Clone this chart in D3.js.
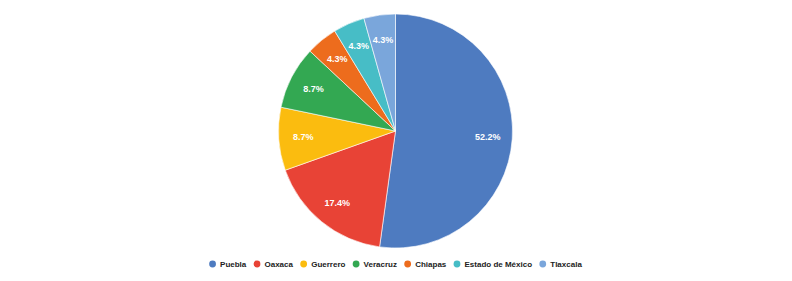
<!DOCTYPE html>
<html>
<head>
<meta charset="utf-8">
<script src="https://cdn.jsdelivr.net/npm/d3@7"></script>
<style>
  body { margin: 0; background: #fff; }
  svg { display: block; font-family: "Liberation Sans", Arial, sans-serif; }
</style>
</head>
<body>
<svg id="chart" width="792" height="281"></svg>
<script>
const states = ["Puebla", "Oaxaca", "Guerrero", "Veracruz", "Chiapas", "Estado de México", "Tlaxcala"];
const counts = [12, 4, 2, 2, 1, 1, 1];
const colors = ["#4e7bc0", "#e84336", "#fbbc0f", "#33a852", "#ed6c1d", "#47bdc6", "#7aa6db"];

const svg = d3.select("#chart"),
    width = +svg.attr("width"),
    height = +svg.attr("height");

const cx = 395.5, cy = 131, radius = 117;
const total = d3.sum(counts);

let data = states.map(function (s, i) {
    return {state: s, value: counts[i], color: colors[i]};
});

// clockwise from 12 o'clock, same order as legend
const pie = d3.pie().sort(null).value(d => d.value);
const arc = d3.arc().innerRadius(0).outerRadius(radius);
const labelArc = d3.arc().innerRadius(radius * 0.79).outerRadius(radius * 0.79);

const g = svg.append("g").attr("transform", "translate(" + cx + "," + cy + ")");

g.selectAll("path")
    .data(pie(data))
    .enter()
    .append("path")
    .attr("d", arc)
    .attr("fill", d => d.data.color)
    .style("stroke", "#fff")
    .style("stroke-width", 0.6);

g.selectAll("text")
    .data(pie(data))
    .enter()
    .append("text")
    .attr("transform", d => "translate(" + labelArc.centroid(d) + ")")
    .attr("text-anchor", "middle")
    .attr("dy", "0.35em")
    .attr("fill", "#fff")
    .style("font-size", "9px")
    .style("font-weight", "bold")
    .text(d => (d.data.value / total * 100).toFixed(1) + "%");

// legend
const legend = svg.append("g");
let x = 0;
data.forEach(function (d) {
    const item = legend.append("g");
    item.append("circle").attr("cx", 0).attr("cy", 0).attr("r", 3.4).attr("fill", d.color);
    const t = item.append("text")
        .attr("x", 7.5)
        .attr("dy", "0.35em")
        .attr("fill", "#222")
        .style("font-size", "8px")
        .style("font-weight", "bold")
        .text(d.state);
    const w = t.node().getComputedTextLength();
    item.attr("transform", "translate(" + x + ",0)");
    x += 7.5 + w + 10.7;
});
const legendWidth = x - 10.7 + 3.4;
legend.attr("transform", "translate(" + (cx - legendWidth / 2 + 3.4) + ",264)");
</script>
</body>
</html>
